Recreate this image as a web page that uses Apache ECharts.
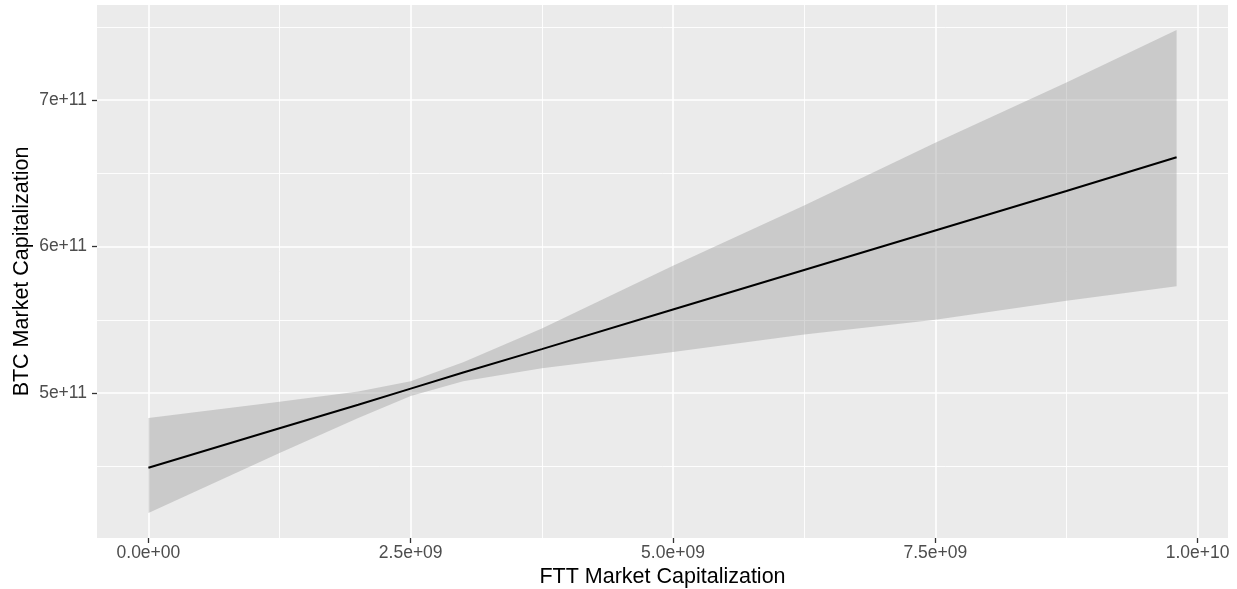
<!DOCTYPE html>
<html>
<head>
<meta charset="utf-8">
<script src="https://cdn.jsdelivr.net/npm/echarts@6/dist/echarts.min.js"></script>
<style>
  html, body { margin: 0; padding: 0; background: #fff; }
  #chart { width: 1237px; height: 589px; }
</style>
</head>
<body>
<div id="chart"></div>
<script>
// FTT market cap (x) and fitted BTC market cap with its confidence band
var fttCap   = [0, 1.25e9, 2.0e9, 2.5e9, 3.0e9, 3.75e9, 5.0e9, 6.25e9, 7.5e9, 8.75e9, 9.8e9];
var btcFit   = [4.49e11, 4.76e11, 4.92e11, 5.03e11, 5.14e11, 5.30e11, 5.57e11, 5.84e11, 6.11e11, 6.38e11, 6.61e11];
var btcUpper = [4.83e11, 4.94e11, 5.01e11, 5.08e11, 5.21e11, 5.44e11, 5.87e11, 6.28e11, 6.71e11, 7.12e11, 7.48e11];
var btcLower = [4.18e11, 4.59e11, 4.83e11, 4.98e11, 5.08e11, 5.17e11, 5.28e11, 5.40e11, 5.50e11, 5.63e11, 5.73e11];

// ticks
var xTicks = [0, 2.5e9, 5.0e9, 7.5e9, 1.0e10];
var xTickLabels = ['0.0e+00', '2.5e+09', '5.0e+09', '7.5e+09', '1.0e+10'];
var xMinor = [1.25e9, 3.75e9, 6.25e9, 8.75e9];
var yTicks = [5e11, 6e11, 7e11];
var yTickLabels = ['5e+11', '6e+11', '7e+11'];
var yMinor = [4.5e11, 5.5e11, 6.5e11, 7.5e11];

var chart = echarts.init(document.getElementById('chart'));

function tickLabel(ticks, labels) {
    return function (v) {
        for (var i = 0; i < ticks.length; i++) {
            if (Math.abs(ticks[i] - v) < 1) return labels[i];
        }
        return '';
    };
}

var fontFam = '"Liberation Sans", Arial, sans-serif';

var option = {
    animation: false,
    grid: {
        show: true,
        left: 97, right: 9, top: 5, bottom: 51,
        outerBoundsMode: 'none',
        containLabel: false,
        backgroundColor: '#EBEBEB',
        borderWidth: 0
    },
    xAxis: [
        {
            type: 'value',
            min: -0.49e9, max: 10.29e9,
            name: 'FTT Market Capitalization',
            nameLocation: 'middle',
            nameGap: 28,
            nameMoveOverlap: false,
            nameTextStyle: { color: '#000', fontSize: 21.5, fontFamily: fontFam },
            axisLine: { show: false, onZero: false },
            axisTick: { show: true, customValues: xTicks, length: 5, lineStyle: { color: '#333', width: 1.3 } },
            axisLabel: { customValues: xTicks, formatter: tickLabel(xTicks, xTickLabels),
                         color: '#4D4D4D', fontSize: 17.5, fontFamily: fontFam, margin: 6 },
            splitLine: { show: true, lineStyle: { color: '#fff', width: 1.6 } }
        },
        {
            type: 'value',
            min: -0.49e9, max: 10.29e9,
            axisLine: { show: false, onZero: false },
            axisTick: { show: false, customValues: xMinor },
            axisLabel: { show: false, customValues: xMinor },
            splitLine: { show: true, lineStyle: { color: '#fff', width: 0.9 } }
        }
    ],
    yAxis: [
        {
            type: 'value',
            min: 4.01e11, max: 7.65e11,
            name: 'BTC Market Capitalization',
            nameLocation: 'middle',
            nameGap: 64,
            nameMoveOverlap: false,
            nameTextStyle: { color: '#000', fontSize: 21.5, fontFamily: fontFam },
            axisLine: { show: false, onZero: false },
            axisTick: { show: true, customValues: yTicks, length: 5, lineStyle: { color: '#333', width: 1.3 } },
            axisLabel: { customValues: yTicks, formatter: tickLabel(yTicks, yTickLabels),
                         color: '#4D4D4D', fontSize: 17.5, fontFamily: fontFam, margin: 10 },
            splitLine: { show: true, lineStyle: { color: '#fff', width: 1.6 } }
        },
        {
            type: 'value',
            min: 4.01e11, max: 7.65e11,
            axisLine: { show: false, onZero: false },
            axisTick: { show: false, customValues: yMinor },
            axisLabel: { show: false, customValues: yMinor },
            splitLine: { show: true, lineStyle: { color: '#fff', width: 0.9 } }
        }
    ],
    series: [
        {
            // confidence band
            type: 'custom',
            xAxisIndex: 0, yAxisIndex: 0,
            silent: true,
            z: 2,
            data: fttCap.map(function (x, i) { return [x, btcLower[i], btcUpper[i]]; }),
            encode: { x: 0, y: [1, 2] },
            renderItem: function (params, api) {
                if (params.dataIndex !== 0) return null;
                var pts = [];
                for (var i = 0; i < fttCap.length; i++) pts.push(api.coord([fttCap[i], btcUpper[i]]));
                for (var j = fttCap.length - 1; j >= 0; j--) pts.push(api.coord([fttCap[j], btcLower[j]]));
                return {
                    type: 'polygon',
                    shape: { points: pts },
                    style: { fill: 'rgba(153,153,153,0.4)', stroke: null }
                };
            }
        },
        {
            type: 'line',
            xAxisIndex: 0, yAxisIndex: 0,
            z: 3,
            data: fttCap.map(function (x, i) { return [x, btcFit[i]]; }),
            showSymbol: false,
            lineStyle: { color: '#000', width: 2 }
        }
    ]
};

chart.setOption(option);
</script>
</body>
</html>
